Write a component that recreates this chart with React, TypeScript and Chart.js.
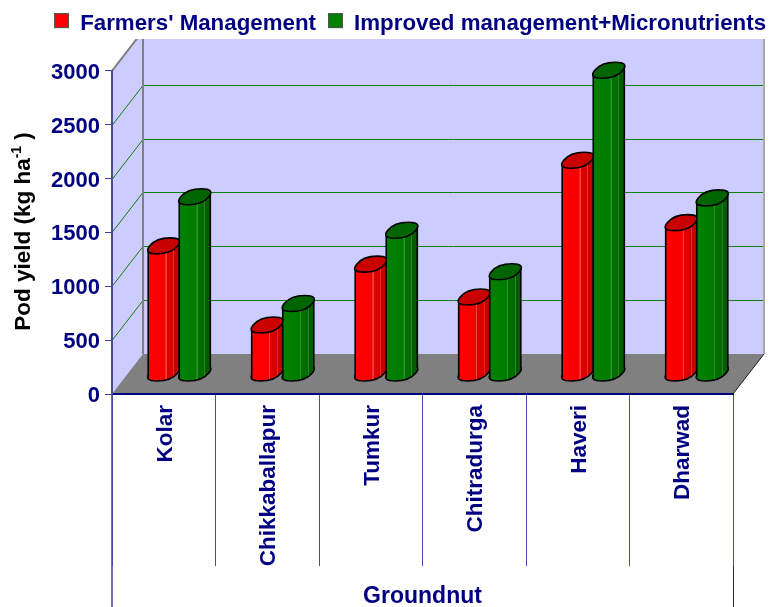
import React, { useEffect, useRef } from "react";
import { Chart, registerables } from "chart.js";

Chart.register(...registerables);

const categories = ["Kolar", "Chikkaballapur", "Tumkur", "Chitradurga", "Haveri", "Dharwad"];
const farmers = [1185, 450, 1015, 710, 1980, 1400];
const improved = [1640, 650, 1330, 945, 2815, 1630];
const seriesNames = ["Farmers' Management", "Improved management+Micronutrients"];
const seriesColors = ["#ff0000", "#008000"];
const groupLabel = "Groundnut";

const NAVY = "#000080";
const FONT = "'Liberation Sans', Arial, sans-serif";
const FS = 22.5;
const LEGEND_FS = 22.3;
const DX = 31;
const DY = 40;
const BAR_DY = 20.5;
const WALL_TOP = 39;

const palettes = [
  { base: ["#ff0000", "#f80000", "#f04040", "#e00000", "#d80000", "#e03030", "#c80000"], top: "#c80000" },
  { base: ["#008000", "#007c00", "#309030", "#007000", "#006c00", "#308030", "#005e00"], top: "#006400" },
];

function plate(ctx: CanvasRenderingContext2D, cx: number, yc: number) {
  const pts = [
    [cx - 20.5, yc + 8],
    [cx + 7.5, yc + 8],
    [cx + 20.5, yc - 8],
    [cx - 7.5, yc - 8],
  ];
  const mid = (a: number[], b: number[]) => [(a[0] + b[0]) / 2, (a[1] + b[1]) / 2];
  const start = mid(pts[3], pts[0]);
  ctx.beginPath();
  ctx.moveTo(start[0], start[1]);
  for (let i = 0; i < 4; i++) {
    const c = pts[i];
    const m = mid(c, pts[(i + 1) % 4]);
    ctx.quadraticCurveTo(c[0], c[1], m[0], m[1]);
  }
  ctx.closePath();
}

function drawBar(ctx: CanvasRenderingContext2D, x: number, y: number, base: number, w: number, pal: (typeof palettes)[0]) {
  const cx = x + DX / 2;
  const yt = y - BAR_DY;
  const yb = base - BAR_DY;
  const L = cx - w / 2;
  const R = cx + w / 2;
  const k = 4.5;
  const g = ctx.createLinearGradient(L, 0, R, 0);
  const b = pal.base;
  g.addColorStop(0, b[0]);
  g.addColorStop(0.55, b[1]);
  g.addColorStop(0.56, b[2]);
  g.addColorStop(0.59, b[2]);
  g.addColorStop(0.6, b[3]);
  g.addColorStop(0.8, b[4]);
  g.addColorStop(0.81, b[5]);
  g.addColorStop(0.83, b[5]);
  g.addColorStop(0.84, b[6]);
  g.addColorStop(1, b[6]);
  ctx.save();
  ctx.lineWidth = 1.6;
  ctx.strokeStyle = "#000";
  ctx.lineJoin = "round";
  plate(ctx, cx, yb);
  ctx.fillStyle = g;
  ctx.fill();
  ctx.stroke();
  ctx.beginPath();
  ctx.moveTo(L, yt + k);
  ctx.lineTo(R, yt - k);
  ctx.lineTo(R, yb - k);
  ctx.lineTo(L, yb + k);
  ctx.closePath();
  ctx.fill();
  ctx.beginPath();
  ctx.moveTo(L, yt + k);
  ctx.lineTo(L, yb + k);
  ctx.moveTo(R, yt - k);
  ctx.lineTo(R, yb - k);
  ctx.stroke();
  plate(ctx, cx, yt);
  ctx.fillStyle = pal.top;
  ctx.fill();
  ctx.stroke();
  ctx.restore();
}

function legendSwatch(color: string) {
  const c = document.createElement("canvas");
  c.width = 15;
  c.height = 22;
  const x = c.getContext("2d") as CanvasRenderingContext2D;
  x.fillStyle = color;
  x.fillRect(0, 0, 15, 15);
  x.strokeStyle = "#555555";
  x.lineWidth = 1;
  x.strokeRect(0.5, 0.5, 14, 14);
  return c;
}

const scene = {
  id: "scene",
  beforeDraw(chart: any) {
    const { ctx, chartArea: a, scales } = chart;
    const y = scales.y;
    const zero = y.getPixelForValue(0);
    const l = a.left;
    const r = a.right;
    ctx.save();
    ctx.beginPath();
    ctx.rect(0, WALL_TOP, chart.width, chart.height);
    ctx.clip();
    const top = y.getPixelForValue(3000);
    ctx.fillStyle = "#ccccff";
    ctx.beginPath();
    ctx.moveTo(l, zero);
    ctx.lineTo(l, top);
    ctx.lineTo(l + DX, top - DY);
    ctx.lineTo(r + DX, top - DY);
    ctx.lineTo(r + DX, zero - DY);
    ctx.lineTo(r, zero);
    ctx.closePath();
    ctx.fill();
    ctx.fillStyle = "#808080";
    ctx.beginPath();
    ctx.moveTo(l, zero);
    ctx.lineTo(r, zero);
    ctx.lineTo(r + DX, zero - DY);
    ctx.lineTo(l + DX, zero - DY);
    ctx.closePath();
    ctx.fill();
    ctx.lineWidth = 1;
    ctx.strokeStyle = "#108010";
    for (const t of y.ticks) {
      if (t.value === 0 || t.value === 3000) continue;
      const p = Math.round(y.getPixelForValue(t.value)) + 0.5;
      ctx.beginPath();
      ctx.moveTo(l, p);
      ctx.lineTo(l + DX, p - DY);
      ctx.lineTo(r + DX, p - DY);
      ctx.stroke();
    }
    ctx.strokeStyle = "#808080";
    ctx.lineWidth = 2;
    ctx.beginPath();
    ctx.moveTo(l, top);
    ctx.lineTo(l + DX, top - DY);
    ctx.moveTo(l + DX, WALL_TOP);
    ctx.lineTo(l + DX, zero - DY);
    ctx.stroke();
    ctx.strokeStyle = "#a8a8a8";
    ctx.beginPath();
    ctx.moveTo(r + DX, WALL_TOP);
    ctx.lineTo(r + DX, zero - DY);
    ctx.stroke();
    ctx.strokeStyle = "#202020";
    ctx.lineWidth = 1;
    ctx.beginPath();
    ctx.moveTo(r, zero);
    ctx.lineTo(r + DX, zero - DY);
    ctx.stroke();
    ctx.restore();

    ctx.save();
    ctx.strokeStyle = "#6c6cb8";
    ctx.lineWidth = 2;
    ctx.beginPath();
    ctx.moveTo(l, zero);
    ctx.lineTo(l, chart.height);
    ctx.stroke();
    ctx.strokeStyle = "#20208c";
    ctx.lineWidth = 1;
    ctx.beginPath();
    ctx.moveTo(r + 0.5, zero);
    ctx.lineTo(r + 0.5, chart.height);
    ctx.stroke();
    ctx.restore();

    ctx.save();
    ctx.translate(24, 231.5);
    ctx.rotate(-Math.PI / 2);
    ctx.fillStyle = "#000";
    ctx.textBaseline = "middle";
    ctx.textAlign = "left";
    const parts: [string, number, number][] = [
      ["Pod yield (kg ha", 22.5, 0],
      ["-1", 14, -7],
      [" )", 22.5, 0],
    ];
    let total = 0;
    for (const [s, f] of parts) {
      ctx.font = `bold ${f}px ${FONT}`;
      total += ctx.measureText(s).width;
    }
    let cur = -total / 2;
    for (const [s, f, dy] of parts) {
      ctx.font = `bold ${f}px ${FONT}`;
      ctx.fillText(s, cur, dy);
      cur += ctx.measureText(s).width;
    }
    ctx.restore();
  },
  beforeDatasetsDraw(chart: any) {
    const { ctx } = chart;
    const n = chart.data.datasets.length;
    const metas = [];
    for (let i = 0; i < n; i++) metas.push(chart.getDatasetMeta(i));
    const count = chart.data.labels.length;
    for (let j = 0; j < count; j++) {
      for (let i = 0; i < n; i++) {
        const el = metas[i].data[j];
        drawBar(ctx, el.x, el.y, el.base, el.width, palettes[i]);
      }
    }
  },
  beforeDatasetDraw() {
    return false;
  },
};

export default function App() {
  const ref = useRef<HTMLCanvasElement | null>(null);
  useEffect(() => {
    const swatches = seriesColors.map(legendSwatch);
    const chart = new Chart(ref.current as HTMLCanvasElement, {
      type: "bar",
      plugins: [scene],
      data: {
        labels: categories,
        datasets: [
          { label: seriesNames[0], data: farmers, backgroundColor: seriesColors[0], borderColor: "#555555", borderWidth: 1, categoryPercentage: 0.6, barPercentage: 1 },
          { label: seriesNames[1], data: improved, backgroundColor: seriesColors[1], borderColor: "#555555", borderWidth: 1, categoryPercentage: 0.6, barPercentage: 1 },
        ],
      } as any,
      options: {
        animation: false,
        responsive: false,
        layout: { padding: { left: 42, top: 1, right: 0, bottom: 0 } },
        plugins: {
          tooltip: { enabled: false },
          legend: {
            position: "top",
            align: "start",
            labels: {
              color: NAVY,
              font: { family: FONT, size: LEGEND_FS, weight: "bold" },
              boxWidth: 15,
              boxHeight: 15,
              padding: 12,
              usePointStyle: true,
              generateLabels(c: any) {
                return (Chart.defaults.plugins.legend.labels.generateLabels as any)(c).map((it: any, i: number) => ({
                  ...it,
                  pointStyle: swatches[i],
                }));
              },
            },
          },
        },
        scales: {
          x: {
            type: "category",
            position: "bottom",
            offset: true,
            grid: { offset: true, drawOnChartArea: false, drawTicks: true, tickLength: 172, color: "#4a4aa4", lineWidth: 1 },
            border: { display: true, color: NAVY, width: 2 },
            ticks: { color: NAVY, font: { family: FONT, size: FS, weight: "bold" }, minRotation: 90, maxRotation: 90, autoSkip: false, padding: -161, labelOffset: 2 },
            title: { display: true, text: groupLabel, color: NAVY, font: { family: FONT, size: 23, weight: "bold" }, padding: { top: 0, bottom: -3.5 } },
            afterFit(s: any) { s.height = 213; },
          },
          x2: {
            type: "category",
            position: "top",
            labels: [""],
            grid: { display: false },
            border: { display: false },
            ticks: { display: false },
            afterFit(s: any) { s.height = 25.5; },
          },
          y: {
            type: "linear",
            position: "left",
            min: 0,
            max: 3000,
            ticks: { stepSize: 500, color: NAVY, font: { family: FONT, size: 22, weight: "bold" }, padding: 5, labelOffset: 2, callback: (v: any) => String(v) },
            grid: { drawOnChartArea: false, drawTicks: true, tickLength: 7, color: "#3c3c9c" },
            border: { display: true, color: "#4a4a9c", width: 2 },
            afterFit(s: any) { s.width = 70; },
          },
          y2: {
            type: "linear",
            position: "right",
            grid: { display: false },
            border: { display: false },
            ticks: { display: false },
            afterFit(s: any) { s.width = 48; },
          },
        },
      } as any,
    });
    return () => chart.destroy();
  }, []);
  return (
    <div style={{ position: "absolute", left: 0, top: 0, width: 781, height: 607 }}>
      <canvas ref={ref} width={781} height={607} style={{ display: "block" }} />
    </div>
  );
}
